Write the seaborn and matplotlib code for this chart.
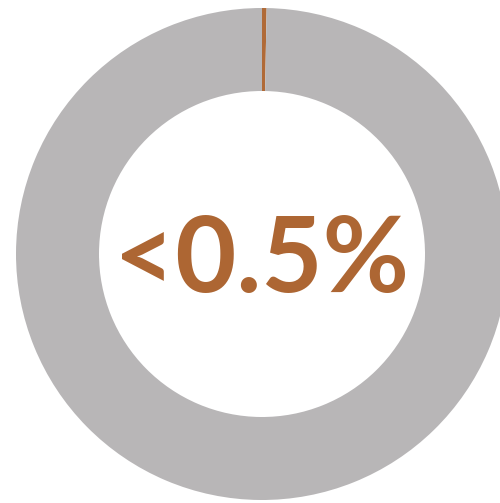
import matplotlib
matplotlib.use("Agg")
import matplotlib.pyplot as plt
import seaborn as sns

# share shown as a thin wedge at the top, the rest as grey ring
labels = ["share", "rest"]
values = [0.3, 99.7]
colors = ["#b06a37", "#b8b6b7"]
center_label = "<0.5%"

sns.set_theme(style="white")
plt.rcParams["font.family"] = ["Lato", "DejaVu Sans"]

fig = plt.figure(figsize=(5.0, 5.03), dpi=100)
ax = fig.add_axes([0, 0, 1, 1])

cx, cy = 262, 503 - 254
outer = 246
ring = outer - 163

ax.pie(values, colors=colors, startangle=90, counterclock=False,
       radius=outer, center=(cx, cy),
       wedgeprops=dict(width=ring, linewidth=0), frame=True)
ax.set_xlim(0, 500)
ax.set_ylim(0, 503)
ax.set_aspect("equal")
ax.axis("off")

ax.text(cx, 503 - 292, center_label, ha="center", va="baseline",
        fontsize=76, fontweight="bold", color="#ad6633")

fig.savefig("out.png", dpi=100)
